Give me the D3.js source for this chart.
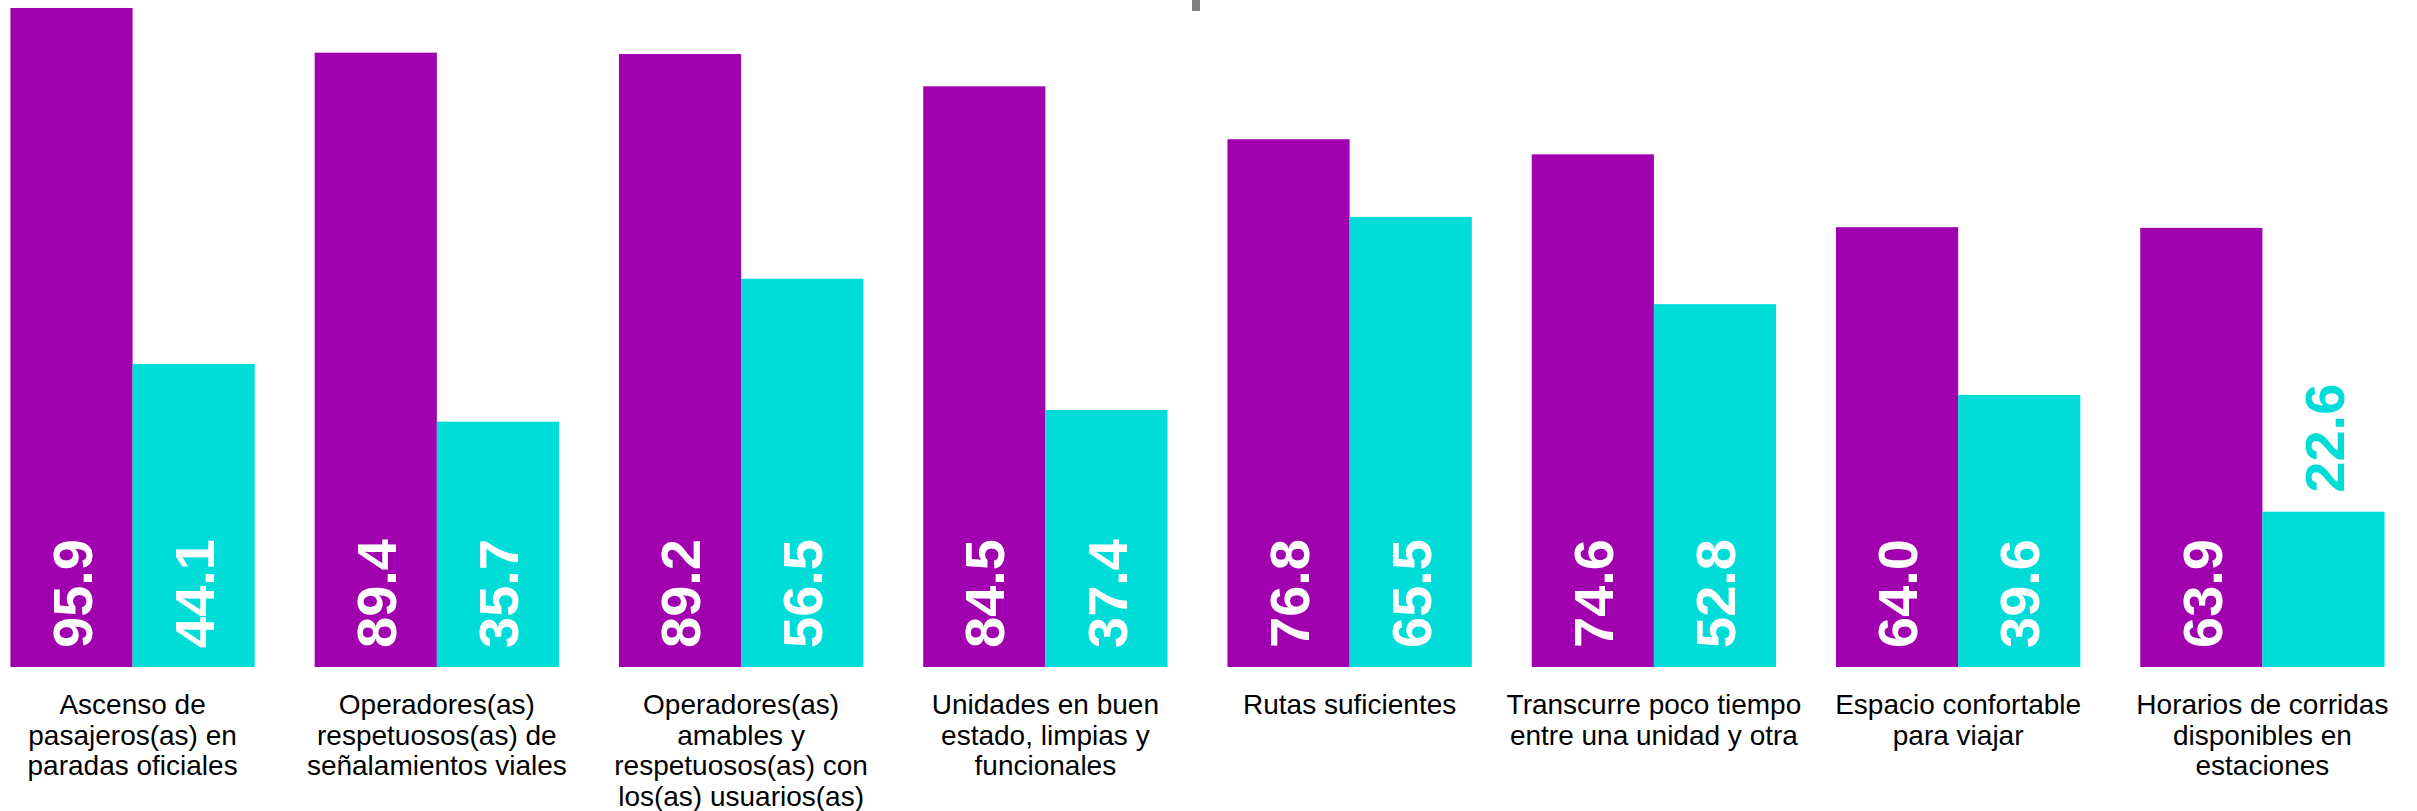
<!DOCTYPE html>
<html>
<head>
<meta charset="utf-8">
<script src="https://cdn.jsdelivr.net/npm/d3@7"></script>
<style>
    body { margin: 0; background: #fff; }
    svg { display: block; font-family: "Liberation Sans", Arial, sans-serif; }
</style>
</head>
<body>
<div id="chart"></div>
<script>
// Data

const categories = [
    'Ascenso de\npasajeros(as) en\nparadas oficiales',
    'Operadores(as)\nrespetuosos(as) de\nseñalamientos viales',
    'Operadores(as)\namables y\nrespetuosos(as) con\nlos(as) usuarios(as)',
    'Unidades en buen\nestado, limpias y\nfuncionales',
    'Rutas suficientes',
    'Transcurre poco tiempo\nentre una unidad y otra',
    'Espacio confortable\npara viajar',
    'Horarios de corridas\ndisponibles en\nestaciones'
];
const seriesA = [95.9, 89.4, 89.2, 84.5, 76.8, 74.6, 64.0, 63.9];
const seriesB = [44.1, 35.7, 56.5, 37.4, 65.5, 52.8, 39.6, 22.6];
const seriesKeys = ['a', 'b'];

const colors = { a: '#a100af', b: '#00dcd8' };

const width = 2417;
const height = 811;
const baseline = 667;   // y of the bars' bottom edge

const rows = categories.map((c, i) => ({ category: c, a: seriesA[i], b: seriesB[i] }));

// Scales

const x0 = d3.scaleBand()
    .domain(categories)
    .range([-20, 2415])
    .paddingInner(0.197)
    .paddingOuter(0.1);

const x1 = d3.scaleBand()
    .domain(seriesKeys)
    .range([0, x0.bandwidth()]);

const y = d3.scaleLinear()
    .domain([0, 97.06])
    .range([baseline, 0]);

// SVG

const svg = d3.select('#chart')
    .append('svg')
    .attr('width', width)
    .attr('height', height);

// small grey tick left over at the top of the original
svg.append('rect')
    .attr('x', 1192).attr('y', 0)
    .attr('width', 8).attr('height', 11)
    .attr('fill', '#808080');

const groups = svg.append('g')
    .selectAll('g')
    .data(rows)
    .join('g')
    .attr('transform', d => `translate(${x0(d.category)},0)`);

const cells = groups.selectAll('g')
    .data(d => seriesKeys.map(k => ({ key: k, value: d[k] })))
    .join('g');

cells.append('rect')
    .attr('x', d => x1(d.key))
    .attr('y', d => y(d.value))
    .attr('width', x1.bandwidth())
    .attr('height', d => baseline - y(d.value))
    .attr('fill', d => colors[d.key]);

// value labels: inside the bar at its base, above it when the bar is too short
const fitsInside = d => baseline - y(d.value) > 180;

cells.append('text')
    .attr('transform', d => {
        const cx = x1(d.key) + x1.bandwidth() / 2;
        const ty = fitsInside(d) ? baseline - 19 : y(d.value) - 19;
        return `translate(${cx},${ty}) rotate(-90)`;
    })
    .attr('dy', '0.36em')
    .attr('text-anchor', 'start')
    .attr('font-size', 56)
    .attr('font-weight', 'bold')
    .attr('fill', d => fitsInside(d) ? '#ffffff' : colors[d.key])
    .text(d => d.value.toFixed(1));

// category labels (line breaks as in the original)
const xAxis = svg.append('g');

xAxis.selectAll('text')
    .data(categories)
    .join('text')
    .attr('x', d => x0(d) + x0.bandwidth() / 2)
    .attr('y', 714)
    .attr('text-anchor', 'middle')
    .attr('font-size', 28)
    .attr('fill', '#000')
    .selectAll('tspan')
    .data(d => d.split('\n'))
    .join('tspan')
    .attr('x', function() { return this.parentNode.getAttribute('x'); })
    .attr('dy', (d, i) => i === 0 ? 0 : 30.5)
    .text(d => d);
</script>
</body>
</html>
